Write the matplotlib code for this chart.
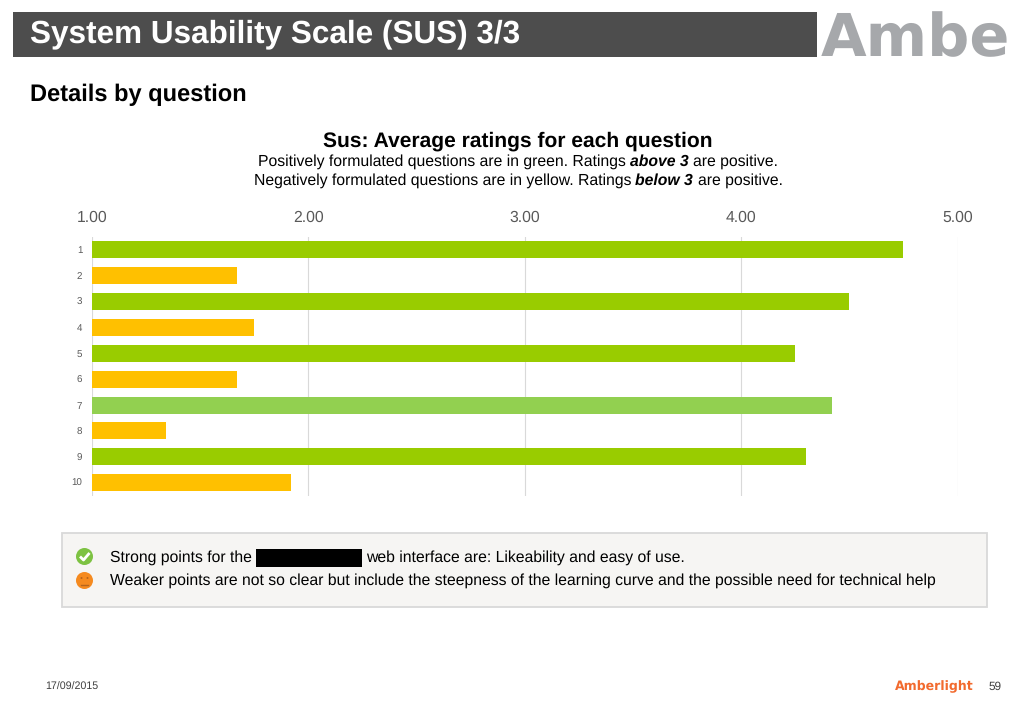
import matplotlib
matplotlib.use('Agg')
import matplotlib.pyplot as plt
from matplotlib.patches import Rectangle, Circle

plt.rcParams['font.family'] = ['Liberation Sans', 'DejaVu Sans']
plt.rcParams['text.hinting'] = 'none'

# Chart data
questions = ['1', '2', '3', '4', '5', '6', '7', '8', '9', '10']
ratings = [4.75, 1.67, 4.50, 1.75, 4.25, 1.67, 4.42, 1.34, 4.30, 1.92]
bar_colors = ['#99CC00', '#FFC000', '#99CC00', '#FFC000', '#99CC00',
              '#FFC000', '#92D050', '#FFC000', '#99CC00', '#FFC000']
x_ticks = [1, 2, 3, 4, 5]

W, H = 1024, 709
fig = plt.figure(figsize=(W / 100, H / 100), dpi=100, facecolor='white')

# Background layer in pixel coordinates (y going down)
bg = fig.add_axes([0, 0, 1, 1])
bg.set_xlim(0, W)
bg.set_ylim(H, 0)
bg.axis('off')


def pieces(x, y, parts, size):
    # centred line made of text runs, the bold italic ones are flagged
    r = fig.canvas.get_renderer()
    items = []
    total = 0
    for s, style in parts:
        t = bg.text(x, y, s, fontsize=size, color='black', va='baseline', ha='left',
                    fontweight='bold' if style else 'normal',
                    fontstyle='italic' if style else 'normal')
        w = t.get_window_extent(r).width
        items.append((t, w))
        total += w
    cur = x - total / 2
    for t, w in items:
        t.set_x(cur)
        cur += w


# Header
bg.add_patch(Rectangle((13, 12), 804, 45, fc='#4D4D4D', ec='none'))
bg.text(30, 42.5, 'System Usability Scale (SUS) 3/3', fontsize=22.7, fontweight='bold',
        color='white', va='baseline')
logo = bg.text(821, 56, 'Amber', fontsize=42.5, fontweight='bold', color='#A6A8AB',
               family='DejaVu Sans', va='baseline')
logo.set_clip_path(Rectangle((820, 0), 192, 70, transform=bg.transData))
logo.set_clip_on(True)

bg.text(30, 101, 'Details by question', fontsize=17, fontweight='bold', color='black', va='baseline')

# Chart titles
bg.text(518, 147, 'Sus: Average ratings for each question', fontsize=15.1, fontweight='bold',
        ha='center', va='baseline')
pieces(518, 166, [('Positively formulated questions are in green. Ratings ', False),
                  ('above 3 ', True), ('are positive.', False)], 11.3)
pieces(518, 185, [('Negatively formulated questions are in yellow. Ratings ', False),
                  ('below 3 ', True), ('are positive.', False)], 11.3)

# Bar chart
ax = fig.add_axes([92 / W, 1 - 495.7 / H, (957.5 - 92) / W, 259 / H])
positions = list(range(len(questions)))
ax.barh(positions, [v - 1 for v in ratings], left=1, height=0.66, color=bar_colors, zorder=3)
ax.set_xlim(1, 5)
ax.set_ylim(9.5, -0.5)
ax.set_xticks(x_ticks)
ax.set_xticklabels(['%.2f' % v for v in x_ticks], fontsize=11.3, color='#595959')
ax.xaxis.tick_top()
ax.tick_params(axis='x', length=0, pad=8)
ax.set_yticks(positions)
ax.set_yticklabels(questions, fontsize=7, color='#595959')
ax.tick_params(axis='y', length=0, pad=7)
ax.grid(axis='x', color='#D9D9D9', lw=0.8, zorder=0)
for s in ax.spines.values():
    s.set_visible(False)

# Notes box
bg.add_patch(Rectangle((62, 532.5), 925, 74, fc='#F6F5F3', ec='#D9D9D9', lw=1.3))
bg.text(110, 562, 'Strong points for the', fontsize=11.3, va='baseline', color='black')
bg.add_patch(Rectangle((256, 549), 106, 18, fc='black', ec='none'))
bg.text(366, 562, 'web interface are: Likeability and easy of use.', fontsize=11.3, va='baseline', color='black')
bg.text(110, 584.5, 'Weaker points are not so clear but include the steepness of the learning curve '
        'and the possible need for technical help', fontsize=11.3, va='baseline', color='black')

# Check icon
bg.add_patch(Circle((84.5, 556.5), 8.5, fc='#7DC242', ec='none'))
bg.plot([80, 83.5, 89.5], [556.5, 560, 553], color='white', lw=2, solid_capstyle='butt')
# Sad face icon
bg.add_patch(Circle((84.5, 580.5), 8.5, fc='#F58A1F', ec='none'))
bg.add_patch(Circle((81.5, 578), 1, fc='#B5651D', ec='none'))
bg.add_patch(Circle((87.5, 578), 1, fc='#B5651D', ec='none'))
bg.plot([81, 88], [584.5, 584.5], color='#B5651D', lw=1)

# Footer
bg.text(45, 690, '17/09/2015', fontsize=7.7, color='#404040', va='baseline')
bg.text(895, 690, 'Amberlight', fontsize=9, fontweight='bold', color='#F26A2E',
        family='DejaVu Sans', va='baseline')
bg.text(989, 690, '59', fontsize=8.5, color='#404040', va='baseline')

fig.savefig('out.png', dpi=100)
